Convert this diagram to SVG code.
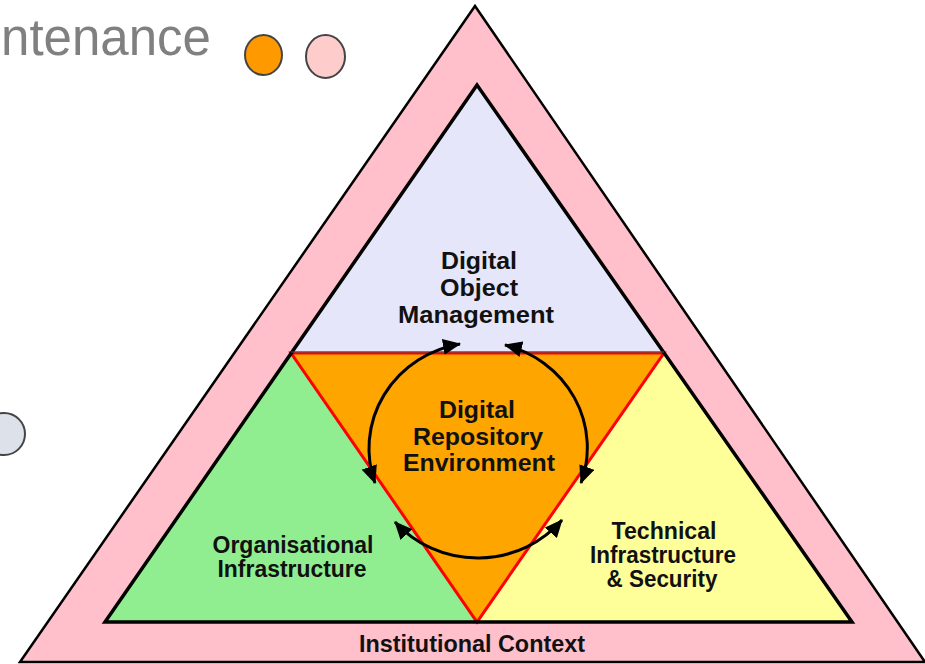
<svg xmlns="http://www.w3.org/2000/svg" width="925" height="664" viewBox="0 0 925 664">
<style>
.lbl{font-family:"Liberation Sans",Arial,sans-serif;font-weight:bold;font-size:23px;fill:#111;text-anchor:middle}
.arc{fill:none;stroke:#000;stroke-width:3}
</style>
<defs>
<marker id="ah" viewBox="0 0 18 16" refX="17" refY="8" markerWidth="18" markerHeight="16" markerUnits="userSpaceOnUse" orient="auto-start-reverse">
<path d="M0,0 L18,8 L0,16 Z" fill="#000"/>
</marker>
</defs>
<rect width="925" height="664" fill="#fff"/>
<g id="header">
<text x="1" y="55" font-family="Liberation Sans,Arial,sans-serif" font-size="51" fill="#808080" textLength="210" lengthAdjust="spacingAndGlyphs">ntenance</text>
<ellipse cx="263.5" cy="55" rx="18.5" ry="20" fill="#FF9900" stroke="#444" stroke-width="2"/>
<ellipse cx="325.5" cy="56.5" rx="19.5" ry="21.5" fill="#FFCCCC" stroke="#444" stroke-width="2"/>
<ellipse cx="4" cy="434" rx="21" ry="21" fill="#DCE1EA" stroke="#444" stroke-width="2"/>
</g>
<g id="institutional-context">
<polygon points="475,6 20,662 925,662" fill="#FFC0CB" stroke="#000" stroke-width="2.5"/>
<text class="lbl" x="472" y="652" textLength="226" lengthAdjust="spacingAndGlyphs">Institutional Context</text>
</g>
<g id="digital-object-management">
<polygon points="477,85 291,353 664,353" fill="#E6E6FA"/>
<text class="lbl" x="479" y="269" textLength="76" lengthAdjust="spacingAndGlyphs">Digital</text>
<text class="lbl" x="479" y="296" textLength="78" lengthAdjust="spacingAndGlyphs">Object</text>
<text class="lbl" x="476" y="323" textLength="156" lengthAdjust="spacingAndGlyphs">Management</text>
</g>
<g id="organisational-infrastructure">
<polygon points="105,622 291,353 477,622" fill="#90EE90"/>
<text class="lbl" x="293" y="553" textLength="161" lengthAdjust="spacingAndGlyphs">Organisational</text>
<text class="lbl" x="292" y="577" textLength="149" lengthAdjust="spacingAndGlyphs">Infrastructure</text>
</g>
<g id="technical-infrastructure">
<polygon points="477,622 664,353 852,622" fill="#FFFF99"/>
<text class="lbl" x="664" y="539" textLength="105" lengthAdjust="spacingAndGlyphs">Technical</text>
<text class="lbl" x="663" y="563" textLength="146" lengthAdjust="spacingAndGlyphs">Infrastructure</text>
<text class="lbl" x="662" y="587" textLength="111" lengthAdjust="spacingAndGlyphs">&amp; Security</text>
</g>
<g id="digital-repository-environment">
<polygon points="291,353 664,353 477,622" fill="#FFA500" stroke="#FF0000" stroke-width="3" stroke-linejoin="miter"/>
<text class="lbl" x="477" y="418" textLength="76" lengthAdjust="spacingAndGlyphs">Digital</text>
<text class="lbl" x="478" y="445" textLength="130" lengthAdjust="spacingAndGlyphs">Repository</text>
<text class="lbl" x="479" y="471" textLength="152" lengthAdjust="spacingAndGlyphs">Environment</text>
</g>
<g id="frame">
<polygon points="477,85 105,622 852,622" fill="none" stroke="#000" stroke-width="3.5"/>
<line x1="291" y1="352" x2="664" y2="352" stroke="#555" stroke-width="1"/>
</g>
<g id="connectors">
<path class="arc" d="M460,344 A110,106 0 0 0 375,483" marker-start="url(#ah)" marker-end="url(#ah)"/>
<path class="arc" d="M505,345 A110,106 0 0 1 581,483" marker-start="url(#ah)" marker-end="url(#ah)"/>
<path class="arc" d="M395,522 A110,106 0 0 0 562,520" marker-start="url(#ah)" marker-end="url(#ah)"/>
</g>
</svg>
